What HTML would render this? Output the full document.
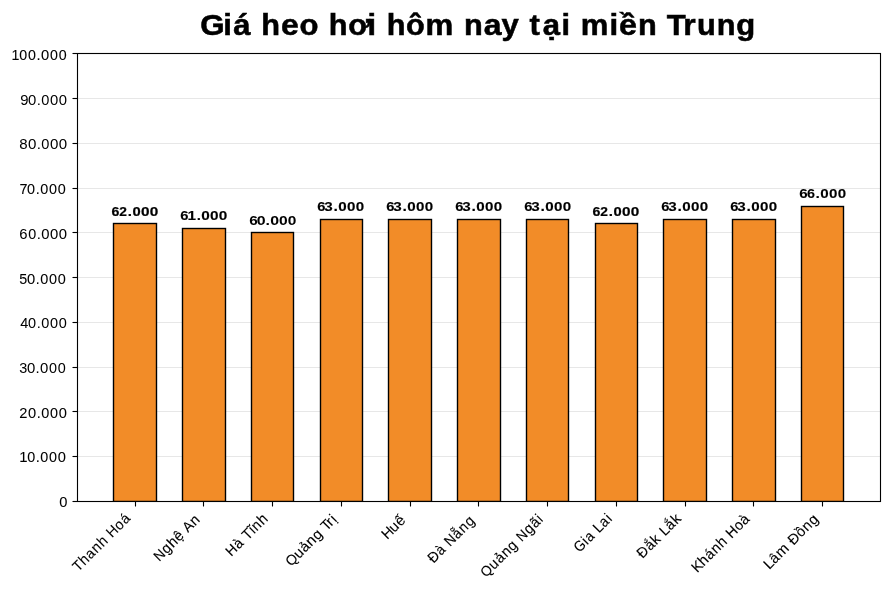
<!DOCTYPE html>
<html><head><meta charset="utf-8"><title>Giá heo hơi hôm nay tại miền Trung</title><style>
html,body{margin:0;padding:0;background:#fff;width:890px;height:589px;overflow:hidden}
svg{display:block;will-change:transform}
text{font-family:"Liberation Sans",sans-serif;fill:#000}
</style></head><body>
<svg width="890" height="589" viewBox="0 0 890 589">
<rect width="890" height="589" fill="#fff"/>
<line x1="77.5" x2="880.5" y1="456.5" y2="456.5" stroke="#e7e7e7" stroke-width="1.11"/>
<line x1="77.5" x2="880.5" y1="411.5" y2="411.5" stroke="#e7e7e7" stroke-width="1.11"/>
<line x1="77.5" x2="880.5" y1="367.5" y2="367.5" stroke="#e7e7e7" stroke-width="1.11"/>
<line x1="77.5" x2="880.5" y1="322.5" y2="322.5" stroke="#e7e7e7" stroke-width="1.11"/>
<line x1="77.5" x2="880.5" y1="277.5" y2="277.5" stroke="#e7e7e7" stroke-width="1.11"/>
<line x1="77.5" x2="880.5" y1="232.5" y2="232.5" stroke="#e7e7e7" stroke-width="1.11"/>
<line x1="77.5" x2="880.5" y1="188.5" y2="188.5" stroke="#e7e7e7" stroke-width="1.11"/>
<line x1="77.5" x2="880.5" y1="143.5" y2="143.5" stroke="#e7e7e7" stroke-width="1.11"/>
<line x1="77.5" x2="880.5" y1="98.5" y2="98.5" stroke="#e7e7e7" stroke-width="1.11"/>
<clipPath id="cp"><rect x="0" y="0" width="890" height="502"/></clipPath><g clip-path="url(#cp)">
<rect x="113.5" y="223.5" width="43" height="278" fill="#F28C28" stroke="#000" stroke-width="1.39"/>
<rect x="182.5" y="228.5" width="43" height="273" fill="#F28C28" stroke="#000" stroke-width="1.39"/>
<rect x="251.5" y="232.5" width="42" height="269" fill="#F28C28" stroke="#000" stroke-width="1.39"/>
<rect x="320.5" y="219.5" width="42" height="282" fill="#F28C28" stroke="#000" stroke-width="1.39"/>
<rect x="388.5" y="219.5" width="43" height="282" fill="#F28C28" stroke="#000" stroke-width="1.39"/>
<rect x="457.5" y="219.5" width="43" height="282" fill="#F28C28" stroke="#000" stroke-width="1.39"/>
<rect x="526.5" y="219.5" width="42" height="282" fill="#F28C28" stroke="#000" stroke-width="1.39"/>
<rect x="595.5" y="223.5" width="42" height="278" fill="#F28C28" stroke="#000" stroke-width="1.39"/>
<rect x="663.5" y="219.5" width="43" height="282" fill="#F28C28" stroke="#000" stroke-width="1.39"/>
<rect x="732.5" y="219.5" width="43" height="282" fill="#F28C28" stroke="#000" stroke-width="1.39"/>
<rect x="801.5" y="206.5" width="42" height="295" fill="#F28C28" stroke="#000" stroke-width="1.39"/>
</g>
<rect x="77.5" y="53.5" width="803" height="448" fill="none" stroke="#000" stroke-width="1.11"/>
<line x1="72.5" x2="77.5" y1="501.5" y2="501.5" stroke="#000" stroke-width="1.11"/>
<line x1="72.5" x2="77.5" y1="456.5" y2="456.5" stroke="#000" stroke-width="1.11"/>
<line x1="72.5" x2="77.5" y1="411.5" y2="411.5" stroke="#000" stroke-width="1.11"/>
<line x1="72.5" x2="77.5" y1="367.5" y2="367.5" stroke="#000" stroke-width="1.11"/>
<line x1="72.5" x2="77.5" y1="322.5" y2="322.5" stroke="#000" stroke-width="1.11"/>
<line x1="72.5" x2="77.5" y1="277.5" y2="277.5" stroke="#000" stroke-width="1.11"/>
<line x1="72.5" x2="77.5" y1="232.5" y2="232.5" stroke="#000" stroke-width="1.11"/>
<line x1="72.5" x2="77.5" y1="188.5" y2="188.5" stroke="#000" stroke-width="1.11"/>
<line x1="72.5" x2="77.5" y1="143.5" y2="143.5" stroke="#000" stroke-width="1.11"/>
<line x1="72.5" x2="77.5" y1="98.5" y2="98.5" stroke="#000" stroke-width="1.11"/>
<line x1="72.5" x2="77.5" y1="53.5" y2="53.5" stroke="#000" stroke-width="1.11"/>
<line x1="135.5" x2="135.5" y1="501.5" y2="506.5" stroke="#000" stroke-width="1.11"/>
<line x1="203.5" x2="203.5" y1="501.5" y2="506.5" stroke="#000" stroke-width="1.11"/>
<line x1="272.5" x2="272.5" y1="501.5" y2="506.5" stroke="#000" stroke-width="1.11"/>
<line x1="341.5" x2="341.5" y1="501.5" y2="506.5" stroke="#000" stroke-width="1.11"/>
<line x1="410.5" x2="410.5" y1="501.5" y2="506.5" stroke="#000" stroke-width="1.11"/>
<line x1="478.5" x2="478.5" y1="501.5" y2="506.5" stroke="#000" stroke-width="1.11"/>
<line x1="547.5" x2="547.5" y1="501.5" y2="506.5" stroke="#000" stroke-width="1.11"/>
<line x1="616.5" x2="616.5" y1="501.5" y2="506.5" stroke="#000" stroke-width="1.11"/>
<line x1="685.5" x2="685.5" y1="501.5" y2="506.5" stroke="#000" stroke-width="1.11"/>
<line x1="753.5" x2="753.5" y1="501.5" y2="506.5" stroke="#000" stroke-width="1.11"/>
<line x1="822.5" x2="822.5" y1="501.5" y2="506.5" stroke="#000" stroke-width="1.11"/>
<text id="title" transform="translate(199.92,34.58) scale(1.0739,1)" x="0.40 21.66 31.02 39.69 57.00 75.59 92.84 101.51 119.97 138.03 156.14 164.81 174.02 191.92 210.10 218.77 245.99 264.19 280.85 289.52 306.86 319.14 336.72 345.39 354.75 381.49 390.26 407.98 416.65 434.63 449.97 462.92 481.37 499.33" y="0" font-size="28.90" font-weight="bold" stroke="#000" stroke-width="0.527"><tspan font-size="29.20">G</tspan>iá <tspan font-size="28.60">h</tspan><tspan font-size="29.75">e</tspan>o <tspan font-size="28.60">h</tspan><tspan font-size="28.60">ơ</tspan><tspan font-size="28.60">i</tspan> <tspan font-size="28.60">h</tspan><tspan font-size="28.60">ô</tspan><tspan font-size="29.05">m</tspan> <tspan font-size="28.60">n</tspan><tspan font-size="29.75">a</tspan>y tạ<tspan font-size="28.60">i</tspan> m<tspan font-size="29.05">i</tspan><tspan font-size="30.05">ề</tspan><tspan font-size="28.60">n</tspan> T<tspan font-size="29.70">r</tspan><tspan font-size="28.60">u</tspan><tspan font-size="28.60">n</tspan>g</text>
<text id="lab0" transform="translate(110.16,215.96) scale(1.1383,1)" x="1.17 8.08 15.53 19.68 27.18 34.82" y="0" font-size="12.96" font-weight="bold" stroke="#000" stroke-width="0.198"><tspan font-size="12.46">6</tspan><tspan font-size="12.11">2</tspan><tspan font-size="13.26">.</tspan>0<tspan font-size="13.46">0</tspan><tspan font-size="13.46">0</tspan></text>
<text id="lab1" transform="translate(179.09,219.95) scale(1.1447,1)" x="1.10 7.32 15.46 19.42 27.02 34.62" y="0" font-size="13.42" font-weight="bold" stroke="#000" stroke-width="0.104"><tspan font-size="12.92">6</tspan>1<tspan font-size="13.07">.</tspan>000</text>
<text id="lab2" transform="translate(248.25,225.03) scale(1.1739,1)" x="0.95 7.35 14.62 18.81 26.30 33.72" y="0" font-size="13.56" font-weight="bold"><tspan font-size="13.06">6</tspan>0.0<tspan font-size="13.26">0</tspan><tspan font-size="13.21">0</tspan></text>
<text id="lab3" transform="translate(316.10,210.95) scale(1.1453,1)" x="1.11 7.12 15.12 19.46 27.06 34.65" y="0" font-size="13.22" font-weight="bold" stroke="#000" stroke-width="0.113"><tspan font-size="12.87">6</tspan><tspan font-size="13.27">3</tspan><tspan font-size="13.72">.</tspan>000</text>
<text id="lab4" transform="translate(385.10,210.95) scale(1.1453,1)" x="1.11 7.12 15.12 19.46 27.06 34.65" y="0" font-size="13.22" font-weight="bold" stroke="#000" stroke-width="0.113"><tspan font-size="12.87">6</tspan><tspan font-size="13.27">3</tspan><tspan font-size="13.72">.</tspan>000</text>
<text id="lab5" transform="translate(454.10,210.95) scale(1.1453,1)" x="1.11 7.12 15.12 19.46 27.06 34.65" y="0" font-size="13.22" font-weight="bold" stroke="#000" stroke-width="0.113"><tspan font-size="12.87">6</tspan><tspan font-size="13.27">3</tspan><tspan font-size="13.72">.</tspan>000</text>
<text id="lab6" transform="translate(523.10,210.95) scale(1.1453,1)" x="1.11 7.12 15.12 19.46 27.06 34.65" y="0" font-size="13.22" font-weight="bold" stroke="#000" stroke-width="0.113"><tspan font-size="12.87">6</tspan><tspan font-size="13.27">3</tspan><tspan font-size="13.72">.</tspan>000</text>
<text id="lab7" transform="translate(591.16,215.96) scale(1.1383,1)" x="1.17 8.08 15.53 19.68 27.18 34.82" y="0" font-size="12.96" font-weight="bold" stroke="#000" stroke-width="0.198"><tspan font-size="12.46">6</tspan><tspan font-size="12.11">2</tspan><tspan font-size="13.26">.</tspan>0<tspan font-size="13.46">0</tspan><tspan font-size="13.46">0</tspan></text>
<text id="lab8" transform="translate(660.10,210.95) scale(1.1453,1)" x="1.11 7.12 15.12 19.46 27.06 34.65" y="0" font-size="13.22" font-weight="bold" stroke="#000" stroke-width="0.113"><tspan font-size="12.87">6</tspan><tspan font-size="13.27">3</tspan><tspan font-size="13.72">.</tspan>000</text>
<text id="lab9" transform="translate(729.10,210.95) scale(1.1453,1)" x="1.11 7.12 15.12 19.46 27.06 34.65" y="0" font-size="13.22" font-weight="bold" stroke="#000" stroke-width="0.113"><tspan font-size="12.87">6</tspan><tspan font-size="13.27">3</tspan><tspan font-size="13.72">.</tspan>000</text>
<text id="lab10" transform="translate(797.99,198.02) scale(1.1736,1)" x="1.16 7.75 14.99 18.99 26.40 33.82" y="0" font-size="13.41" font-weight="bold" stroke="#000" stroke-width="0.072"><tspan font-size="12.91">6</tspan><tspan font-size="12.26">6</tspan>.<tspan font-size="12.91">0</tspan><tspan font-size="12.91">0</tspan><tspan font-size="12.91">0</tspan></text>
<text id="ytl0" transform="translate(58.97,507.06) scale(1.0008,1)" x="0.32" y="0" font-size="14.70" stroke="#000" stroke-width="0.080">0</text>
<text id="ytl1" transform="translate(17.95,461.96) scale(0.9891,1)" x="1.39 9.35 18.03 22.47 31.28 40.13" y="0" font-size="14.55" stroke="#000" stroke-width="0.081"><tspan font-size="15.05">1</tspan>0<tspan font-size="14.85">.</tspan>00<tspan font-size="14.85">0</tspan></text>
<text id="ytl2" transform="translate(18.78,418.11) scale(0.9903,1)" x="0.56 9.26 18.26 22.70 31.65 40.49" y="0" font-size="14.81" stroke="#000" stroke-width="0.072">20<tspan font-size="14.46">.</tspan><tspan font-size="14.61">0</tspan><tspan font-size="14.51">0</tspan>0</text>
<text id="ytl3" transform="translate(17.60,373.01) scale(0.9894,1)" x="1.62 9.61 17.99 22.60 31.67 40.60" y="0" font-size="15.06" stroke="#000" stroke-width="0.019"><tspan font-size="14.56">3</tspan>0.0<tspan font-size="14.56">0</tspan><tspan font-size="14.56">0</tspan></text>
<text id="ytl4" transform="translate(18.74,327.93) scale(0.9934,1)" x="1.57 9.28 18.26 22.62 31.52 40.41" y="0" font-size="14.60" stroke="#000" stroke-width="0.028">40.000</text>
<text id="ytl5" transform="translate(17.73,284.06) scale(0.9758,1)" x="1.60 9.38 18.58 23.04 32.10 41.15" y="0" font-size="14.81" stroke="#000" stroke-width="0.069"><tspan font-size="14.66">5</tspan><tspan font-size="15.11">0</tspan><tspan font-size="14.31">.</tspan>000</text>
<text id="ytl6" transform="translate(18.91,239.06) scale(1.0035,1)" x="0.29 9.23 17.75 22.30 31.10 39.79" y="0" font-size="14.79" stroke="#000" stroke-width="0.052">6<tspan font-size="14.29">0</tspan>.000</text>
<text id="ytl7" transform="translate(17.71,194.12) scale(0.9930,1)" x="1.78 9.31 18.28 22.65 31.55 40.45" y="0" font-size="14.53" stroke="#000" stroke-width="0.068">70.000</text>
<text id="ytl8" transform="translate(18.91,149.05) scale(0.9990,1)" x="0.22 9.06 17.79 22.47 31.17 40.02" y="0" font-size="15.10" stroke="#000" stroke-width="0.007">80.<tspan font-size="14.60">0</tspan>00</text>
<text id="ytl9" transform="translate(18.84,105.02) scale(1.0031,1)" x="1.41 9.09 17.75 22.38 31.12 39.92" y="0" font-size="14.83">90.<tspan font-size="14.53">0</tspan><tspan font-size="14.78">0</tspan>0</text>
<text id="ytl10" transform="translate(9.81,59.98) scale(0.9902,1)" x="1.79 9.51 18.31 26.93 31.55 40.63 49.54" y="0" font-size="14.37" stroke="#000" stroke-width="0.091">100<tspan font-size="14.87">.</tspan><tspan font-size="14.87">0</tspan><tspan font-size="14.32">0</tspan>0</text>
<text id="xtl0" transform="translate(78.18,572.17) rotate(-45) scale(0.9664,1)" x="0.04 9.16 18.13 27.09 36.19 40.56 49.62 60.35 69.32" y="0" font-size="14.56" stroke="#000" stroke-width="0.110"><tspan font-size="14.26">T</tspan><tspan font-size="15.06">h</tspan>a<tspan font-size="15.06">n</tspan><tspan font-size="15.01">h</tspan> Hoá</text>
<text id="xtl1" transform="translate(159.09,562.11) rotate(-45) scale(0.9797,1)" x="0.21 10.96 19.96 28.82 33.20 41.91 51.69" y="0" font-size="14.60" stroke="#000" stroke-width="0.137"><tspan font-size="14.10">N</tspan>g<tspan font-size="14.90">h</tspan><tspan font-size="14.95">ệ</tspan> <tspan font-size="14.25">A</tspan>n</text>
<text id="xtl2" transform="translate(231.18,557.12) rotate(-45) scale(0.9641,1)" x="0.27 10.97 15.35 24.18 33.27 37.58 46.55" y="0" font-size="14.60" stroke="#000" stroke-width="0.129"><tspan font-size="14.25">H</tspan><tspan font-size="14.95">à</tspan> T<tspan font-size="14.75">ĩ</tspan>n<tspan font-size="15.10">h</tspan></text>
<text id="xtl3" transform="translate(291.06,567.03) rotate(-45) scale(1.0190,1)" x="0.02 10.97 19.37 27.92 36.56 40.92 49.06 55.90 61.54" y="0" font-size="14.56" stroke="#000" stroke-width="0.093"><tspan font-size="14.06">Q</tspan>uả<tspan font-size="14.91">n</tspan>g Trị</text>
<text id="xtl4" transform="translate(386.77,540.52) rotate(-45) scale(1.0055,1)" x="0.61 10.41 19.18" y="0" font-size="14.56" stroke="#000" stroke-width="0.086">Hu<tspan font-size="14.91">ế</tspan></text>
<text id="xtl5" transform="translate(433.29,563.79) rotate(-45) scale(0.9529,1)" x="0.23 11.43 15.85 24.94 35.80 45.04 54.36" y="0" font-size="14.75" stroke="#000" stroke-width="0.123">Đ<tspan font-size="14.45">à</tspan> <tspan font-size="14.55">N</tspan>ẵng</text>
<text id="xtl6" transform="translate(486.10,578.01) rotate(-45) scale(0.9780,1)" x="-0.06 11.29 20.29 29.34 38.03 42.42 51.54 62.29 71.39 80.11" y="0" font-size="14.65" stroke="#000" stroke-width="0.114"><tspan font-size="14.15">Q</tspan>u<tspan font-size="14.80">ả</tspan>ng <tspan font-size="13.80">N</tspan><tspan font-size="15.00">g</tspan><tspan font-size="14.70">ã</tspan>i</text>
<text id="xtl7" transform="translate(579.44,553.05) rotate(-45) scale(0.9086,1)" x="0.19 12.34 16.58 20.99 30.29 39.18 48.70" y="0" font-size="14.69" stroke="#000" stroke-width="0.111">Gia <tspan font-size="15.04">L</tspan><tspan font-size="15.19">a</tspan>i</text>
<text id="xtl8" transform="translate(642.41,559.05) rotate(-45) scale(0.9688,1)" x="0.19 11.32 20.03 24.41 33.10 41.05 50.06" y="0" font-size="14.60" stroke="#000" stroke-width="0.124">Đắ<tspan font-size="14.90">k</tspan> <tspan font-size="14.25">L</tspan><tspan font-size="14.95">ắ</tspan><tspan font-size="14.95">k</tspan></text>
<text id="xtl9" transform="translate(697.29,573.22) rotate(-45) scale(0.9735,1)" x="0.11 9.45 18.52 27.61 36.36 40.77 49.82 60.77 68.93" y="0" font-size="14.69" stroke="#000" stroke-width="0.108">K<tspan font-size="15.19">h</tspan><tspan font-size="14.84">á</tspan>n<tspan font-size="14.99">h</tspan> Ho<tspan font-size="14.84">à</tspan></text>
<text id="xtl10" transform="translate(769.19,569.97) rotate(-45) scale(1.0046,1)" x="0.08 7.75 16.66 21.04 34.05 44.90 53.56 62.22" y="0" font-size="14.60" stroke="#000" stroke-width="0.083">Lâ<tspan font-size="15.10">m</tspan> Đồng</text>
</svg>
</body></html>
